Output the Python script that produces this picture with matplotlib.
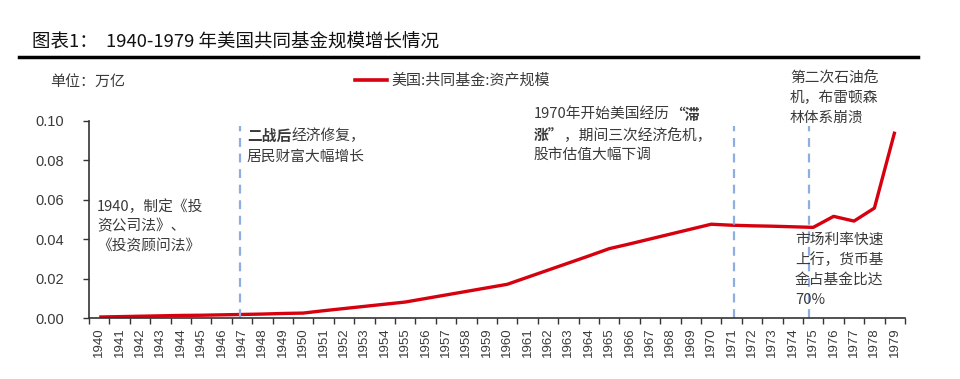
import numpy as np
import matplotlib.pyplot as plt
from matplotlib.lines import Line2D

plt.rcParams['font.family'] = ['Noto Sans CJK SC', 'DejaVu Sans']

# data
years = [str(y) for y in range(1940, 1980)]
assets = [0.0005, 0.0007, 0.0009, 0.0011, 0.0013, 0.0014, 0.0016, 0.0018, 0.0020, 0.0023,
          0.0025, 0.0037, 0.0048, 0.0059, 0.0070, 0.0081, 0.0099, 0.0117, 0.0135, 0.0153,
          0.0171, 0.0207, 0.0243, 0.0279, 0.0315, 0.0352, 0.0376, 0.0401, 0.0426, 0.0451,
          0.0476, 0.0471, 0.0468, 0.0466, 0.0463, 0.0460, 0.0516, 0.0492, 0.0558, 0.0946]
event_pos = [6.9, 31.1, 34.8]
yticks = [0.00, 0.02, 0.04, 0.06, 0.08, 0.10]

red = '#d7000f'
blue = '#8eaee0'
txt = '#3a3a3a'
afs = 10.6

fig = plt.figure(figsize=(9.6, 3.79), dpi=100)
ax = fig.add_axes([89/960, 1-318/379, 816/960, 197/379])

x = np.arange(len(years))
ax.plot(x, assets, color=red, lw=2.4, solid_capstyle='butt')
for p in event_pos:
    ax.plot([p, p], [0, 0.0975], color=blue, lw=1.6, ls=(0, (4, 3)))

ax.set_xlim(-0.5, len(years) - 0.5)
ax.set_ylim(0, 0.1)
ax.set_xticks(x)
ax.set_xticklabels(years, rotation=90, family='Liberation Sans', fontsize=9.5, color=txt)
ax.set_xticks(np.arange(-0.5, len(years)), minor=True)
ax.tick_params(axis='x', which='major', length=0, pad=7)
ax.tick_params(axis='x', which='minor', length=4, width=1, color='#333333')
ax.set_yticks(yticks)
ax.set_yticklabels(['%.2f' % v for v in yticks], family='Liberation Sans', fontsize=10.5, color=txt)
ax.tick_params(axis='y', length=4, width=1, color='#333333', pad=14)
for s in ['top', 'right']:
    ax.spines[s].set_visible(False)
for s in ['left', 'bottom']:
    ax.spines[s].set_color('#333333')
    ax.spines[s].set_linewidth(1.2)

# title and header
fig.text(32/960, 1-42/379, '图表1：  1940-1979 年美国共同基金规模增长情况', fontsize=13.3,
         va='center', ha='left', color='#111111')
fig.add_artist(Line2D([19/960, 918/960], [1-57/379, 1-57/379], color='black', lw=2.5))
fig.text(50/960, 1-82/379, '单位：万亿', fontsize=10.8, va='center', color=txt)
fig.add_artist(Line2D([355/960, 387/960], [1-80/379, 1-80/379], color=red, lw=2.6))
fig.text(391/960, 1-80/379, '美国:共同基金:资产规模', fontsize=10.8, va='center', color=txt)

renderer = fig.canvas.get_renderer()

# annotations: each line is a list of (text, bold) pieces placed one after another
def put(px, py, pieces):
    cur = px
    for s, b in pieces:
        t = fig.text(cur/960, 1-py/379, s, fontsize=afs, va='center', ha='left', color=txt,
                     weight='bold' if b else 'normal')
        cur += t.get_window_extent(renderer).width

put(97, 207, [('1940，制定《投', False)])
put(97, 226, [('资公司法》、', False)])
put(97, 246, [('《投资顾问法》', False)])

put(247, 136, [('二战后', True), ('经济修复，', False)])
put(247, 157, [('居民财富大幅增长', False)])

put(534, 115, [('1970年开始美国经历', False), ('“滞', True)])
put(534, 135, [('涨”', True), ('，期间三次经济危机，', False)])
put(534, 155, [('股市估值大幅下调', False)])

put(790, 78, [('第二次石油危', False)])
put(790, 98, [('机，布雷顿森', False)])
put(790, 118, [('林体系崩溃', False)])

put(795, 240, [('市场利率快速', False)])
put(795, 260, [('上行，货币基', False)])
put(795, 280, [('金占基金比达', False)])
put(795, 300, [('70%', False)])

fig.savefig('out.png', dpi=100)
